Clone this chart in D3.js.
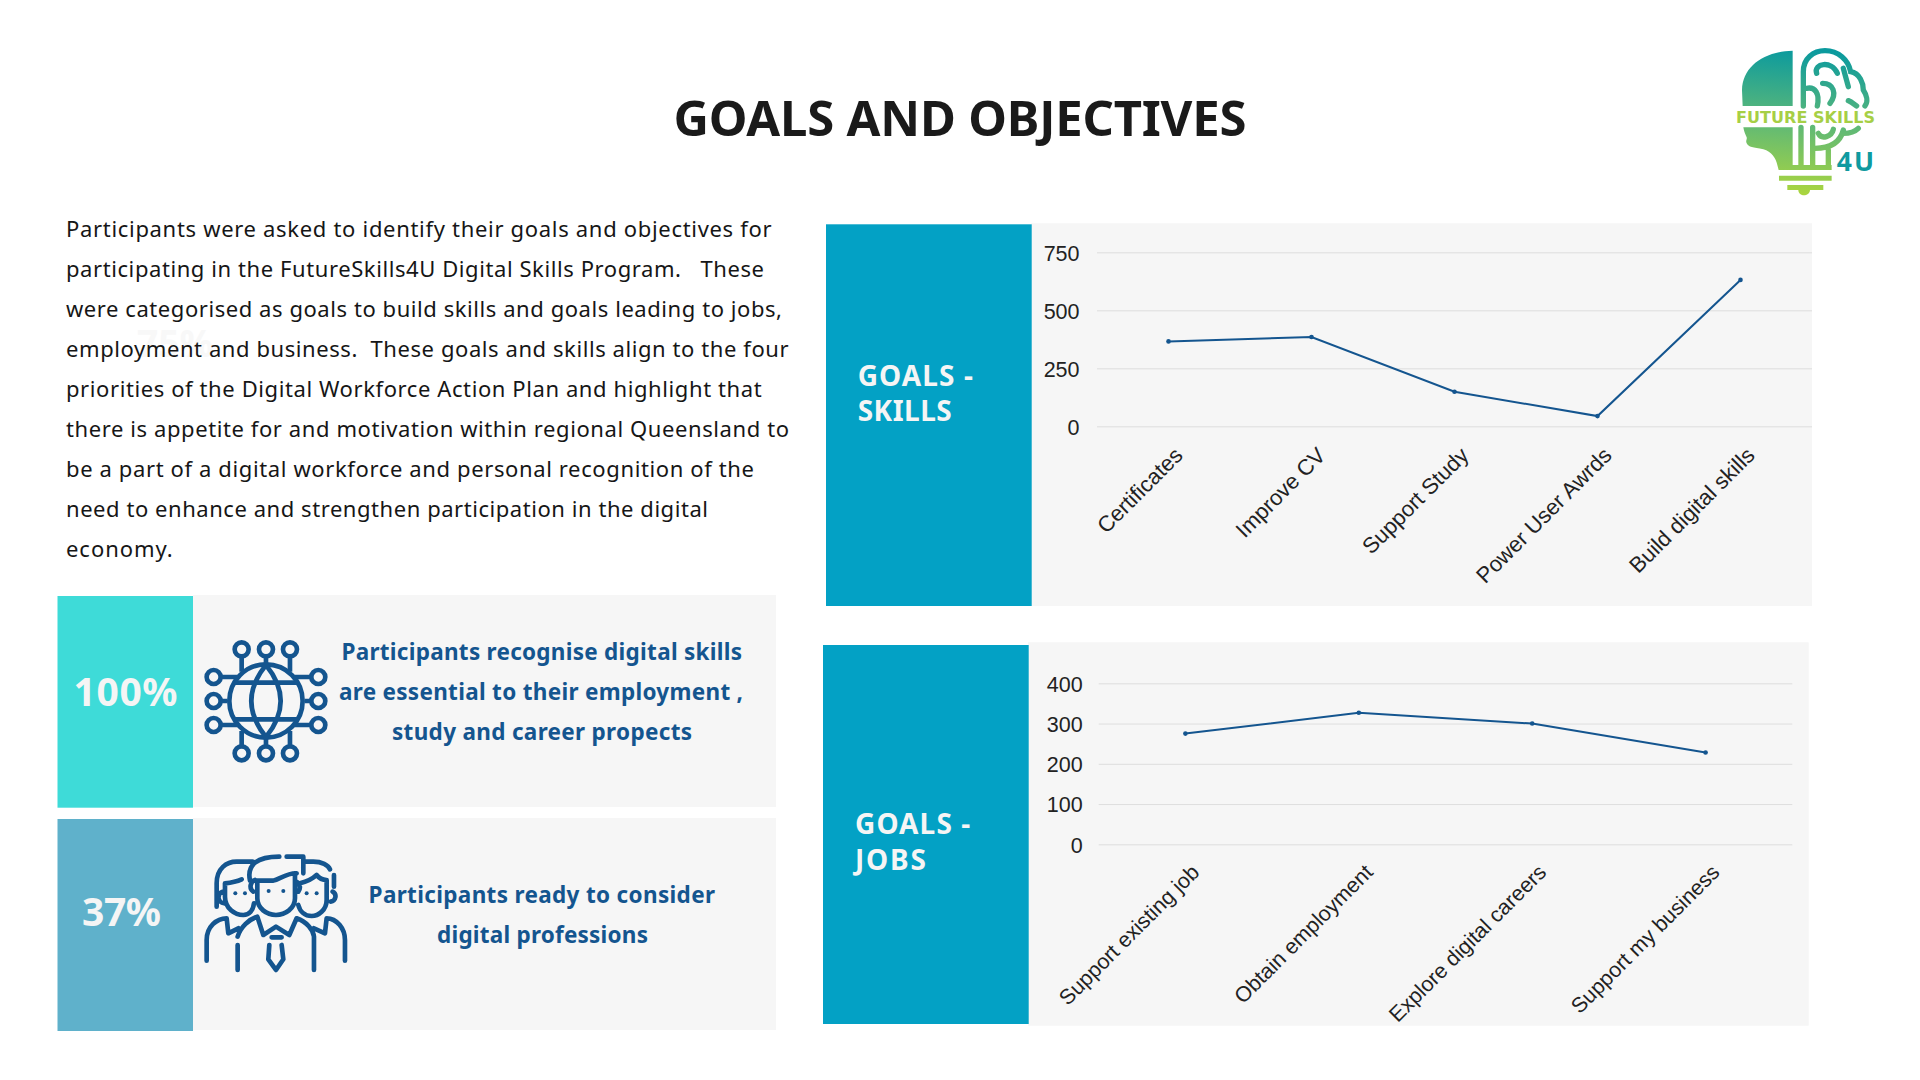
<!DOCTYPE html>
<html><head><meta charset="utf-8">
<script src="https://cdn.jsdelivr.net/npm/d3@7/dist/d3.min.js"></script>
<style>html,body{margin:0;padding:0;background:#fff;overflow:hidden}svg{display:block}text{white-space:pre}</style>
</head><body><svg id="c" width="1920" height="1080" viewBox="0 0 1920 1080"></svg>
<script>
// ---- data ----
const skillCategories = ["Certificates","Improve CV","Support Study","Power User Awrds","Build digital skills"];
const skillValues = [366,385,149,44,631];
const skillTicks = [0,250,500,750];
const jobCategories = ["Support existing job","Obtain employment","Explore digital careers","Support my business"];
const jobValues = [275,327,300,228];
const jobTicks = [0,100,200,300,400];
const titleText = "GOALS AND OBJECTIVES";
const bodyLines = [
 "Participants were asked to identify their goals and objectives for",
 "participating in the FutureSkills4U Digital Skills Program.   These",
 "were categorised as goals to build skills and goals leading to jobs,",
 "employment and business.  These goals and skills align to the four",
 "priorities of the Digital Workforce Action Plan and highlight that",
 "there is appetite for and motivation within regional Queensland to",
 "be a part of a digital workforce and personal recognition of the",
 "need to enhance and strengthen participation in the digital",
 "economy."];
const cardOneLines = ["Participants recognise digital skills","are essential to their employment ,","study and career propects"];
const cardTwoLines = ["Participants ready to consider","digital professions"];
const statOne = "100%", statTwo = "37%", ghostStat = "75%";

// ---- layout ----
const svg = d3.select("#c");
const BODY = "'Noto Sans'", HEAD = "'Noto Sans'", AX = "'Liberation Sans'", WIDE = "'DejaVu Sans'";
const NAVY = "#14558f";
function txt(s,x,y,size,fill,weight,len,anchor,font){
  const t = svg.append("text").attr("x",x).attr("y",y).attr("font-family",font||BODY)
    .attr("font-size",size).attr("fill",fill).attr("font-weight",weight||400)
    .attr("text-anchor",anchor||"start").text(s);
  if(len) t.attr("textLength",len).attr("lengthAdjust","spacing");
  return t;
}
function rect(x,y,w,h,f){return svg.append("rect").attr("x",x).attr("y",y).attr("width",w).attr("height",h).attr("fill",f);}

svg.append("rect").attr("width",1920).attr("height",1080).attr("fill","#fff");
txt(titleText,673.5,136,49,"#1a1a1a",700,573,"start",HEAD);

txt(ghostStat,137,357,37,"#f8f8f8",700,76,"start",HEAD);
const bodyWidths=[705.6,698,716,722.6,695.6,723,688,642,106.7];
bodyLines.forEach((l,i)=>txt(l,66,236.7+i*40.05,22,"#161616",400,bodyWidths[i]));

// left cards
rect(193,595,583,212,"#f6f6f6"); rect(57.5,596,135.5,211.7,"#3edbd8");
rect(193,818,583,212,"#f6f6f6"); rect(57.5,819,135.5,212,"#5fb1cb");
txt(statOne,73.5,706,39,"#f5f5f5",700,104,"start",HEAD);
txt(statTwo,82,926,39,"#f5f5f5",700,79,"start",HEAD);
[[341.5,400.5],[339,404],[392,300]].forEach((p,i)=>txt(cardOneLines[i],p[0],659.5+i*40,22.5,NAVY,700,p[1]));
[[368.6,346.4],[437,211]].forEach((p,i)=>txt(cardTwoLines[i],p[0],902.7+i*40.2,22.5,NAVY,700,p[1]));

// icons (drawn in 3x units around the crop origin)
const ico = svg.append("g").attr("transform","translate(50,590) scale(0.3333)")
  .attr("fill","none").attr("stroke",NAVY).attr("stroke-width",14).attr("stroke-linecap","round").attr("stroke-linejoin","round");
ico.append("circle").attr("cx",648).attr("cy",333).attr("r",110);
ico.append("path").attr("d","M648,225Q560,333 648,441Q736,333 648,225M555,278H741M555,388H741");
[[575,178],[648,178],[720,178],[575,490],[648,490],[720,490],[491,261],[491,333],[491,405],[805,261],[805,333],[805,405]]
 .forEach(c=>ico.append("circle").attr("cx",c[0]).attr("cy",c[1]).attr("r",21));
ico.append("path").attr("stroke-linecap","butt").attr("d",
 "M575,200V245M648,200V225M720,200V245M575,468V423M648,468V441M720,468V423M513,261H565M513,333H532M513,405H565M783,261H731M783,333H764M783,405H731");
ico.append("path").attr("d",
 "M622,880V925C622,955 650,975 678,975C706,975 735,955 735,925V850"+
 "M610,872H670C690,866 715,848 740,850M600,872C590,825 620,800 688,800M710,800H760V850"+
 "M615,870A20,20 0 0 0 610,905M740,875A20,20 0 0 1 745,905"+
 "M500,950V880C500,835 530,815 560,815H608M525,880C545,878 560,875 575,868M525,880V920C525,955 555,975 580,975C598,975 610,960 612,940M518,905A18,18 0 0 0 522,940"+
 "M852,855V890M762,815H790C815,815 835,825 840,838M830,870V930C830,960 805,978 785,978C765,978 750,965 745,945M750,880C770,875 790,865 800,855C810,868 820,870 830,870M848,905A16,16 0 0 1 842,935"+
 "M470,1112V1050C470,1010 500,985 530,985L535,1030L565,1015M563,1040C572,1010 598,988 622,980L640,1035L678,1010L718,1035L740,985C770,995 790,1020 792,1040V1140M792,1015L825,1030L830,985C860,985 885,1015 885,1050V1112M563,1065V1140"+
 "M665,1042H695M658,1065L655,1108L678,1140L700,1108L695,1065");
[[656,903],[700,903],[556,910],[585,910],[770,910],[800,910]].forEach(c=>ico.append("circle").attr("cx",c[0]).attr("cy",c[1]).attr("r",6).attr("fill",NAVY).attr("stroke","none"));

// logo
const defs = svg.append("defs");
const g = defs.append("linearGradient").attr("id","lg").attr("gradientUnits","userSpaceOnUse")
  .attr("x1",300).attr("y1",60).attr("x2",270).attr("y2",490);
g.append("stop").attr("offset",0).attr("stop-color","#0b9a9e");
g.append("stop").attr("offset",0.5).attr("stop-color","#5cb878");
g.append("stop").attr("offset",1).attr("stop-color","#aad53f");
const logo = svg.append("g").attr("transform","translate(1700,30) scale(0.3333)");
logo.append("path").attr("fill","url(#lg)").attr("d",
 "M278,62C190,65 128,110 126,180L128,228H278Z"+
 "M130,292H278V405H232C228,385 215,365 190,358C160,352 145,352 140,340C136,332 142,328 140,322C136,312 132,305 130,292Z"+
 "M237,437H395V452H237ZM262,465H370V480H262ZM295,480H330C330,490 320,496 312,496C304,496 295,490 295,480Z"+
 "M232,405H395V420H236Z");
logo.append("g").attr("fill","none").attr("stroke","url(#lg)").attr("stroke-width",16).attr("stroke-linecap","round").call(s=>{
 s.append("path").attr("d",
  "M310,228V125C310,85 340,62 375,62C415,62 445,90 452,125C480,130 490,160 490,180C500,195 505,215 495,228"+
  "M350,130C340,100 395,90 412,130M320,175C345,170 360,190 352,228M368,160C400,160 412,190 390,220"+
  "M430,115L445,170M445,212C455,215 465,225 470,228"+
  "M303,292V405M338,292V405M345,355C390,355 420,340 430,300M355,310C365,330 395,320 400,298M430,310C450,310 465,305 475,295M385,360V412");
});
txt("FUTURE SKILLS",1736,122.7,16,"#a6cf45",700,139,"start",WIDE);
txt("4U",1836.7,170.7,26.5,"#0f9aa0",700,37.3,"start",HEAD);

// charts
function chart(o){
  rect(o.bgX,o.bgY,o.bgR-o.bgX,o.bgB-o.bgY,"#f6f6f6");
  rect(o.blX,o.blY,o.blW,o.blH,"#03a1c5");
  o.head.forEach((h,i)=>txt(h[0],o.hx,o.hy+i*35.2,28,"#f5f5f5",700,h[1],"start",HEAD));
  const x = d3.scaleBand().domain(o.cats).range([o.x0,o.x1]);
  const y = d3.scaleLinear().domain([0,o.ticks[o.ticks.length-1]]).range([o.y0,o.yTop]);
  const gy = svg.append("g").attr("transform",`translate(${o.x0},0)`)
    .call(d3.axisLeft(y).tickValues(o.ticks).tickSize(-(o.x1-o.x0)).tickPadding(o.pad));
  gy.select(".domain").remove();
  gy.selectAll(".tick line").attr("stroke","#dedede").attr("stroke-width",1);
  gy.selectAll("text").attr("font-family",AX).attr("font-size",21.5).attr("fill","#222").attr("dy","0.36em");
  const gx = svg.append("g").attr("transform",`translate(0,${o.y0})`)
    .call(d3.axisBottom(x).tickSize(0));
  gx.select(".domain").remove();
  gx.selectAll("text").attr("font-family",AX).attr("font-size",o.fs).attr("fill","#222")
    .attr("text-anchor","end").attr("x",0).attr("y",0).attr("dy","0.35em")
    .attr("transform",`translate(${o.lx},${o.ly}) rotate(-45)`);
  const pts = o.cats.map((c,i)=>[x(c)+x.bandwidth()/2,y(o.vals[i])]);
  svg.append("path").attr("fill","none").attr("stroke",NAVY).attr("stroke-width",2).attr("d",d3.line()(pts));
  svg.append("g").selectAll("circle").data(pts).join("circle").attr("cx",d=>d[0]).attr("cy",d=>d[1]).attr("r",2.3).attr("fill",NAVY);
}
chart({cats:skillCategories,vals:skillValues,ticks:skillTicks,bgX:1031,bgY:223.3,bgR:1812,bgB:606,blX:826,blY:224.3,blW:205.7,blH:381.7,
  head:[["GOALS -",115.3],["SKILLS",94]],hx:857.7,hy:386,x0:1097,x1:1812,y0:426.3,yTop:252.3,fs:22,pad:17.5,lx:10,ly:25});
chart({cats:jobCategories,vals:jobValues,ticks:jobTicks,bgX:1028,bgY:642.3,bgR:1808.7,bgB:1025.7,blX:823,blY:645,blW:205.7,blH:379,
  head:[["GOALS -",115.3],["JOBS",71]],hx:855,hy:834.3,x0:1098.7,x1:1792.3,y0:844.3,yTop:683.3,fs:21.4,pad:16,lx:10,ly:24});
</script></body></html>
